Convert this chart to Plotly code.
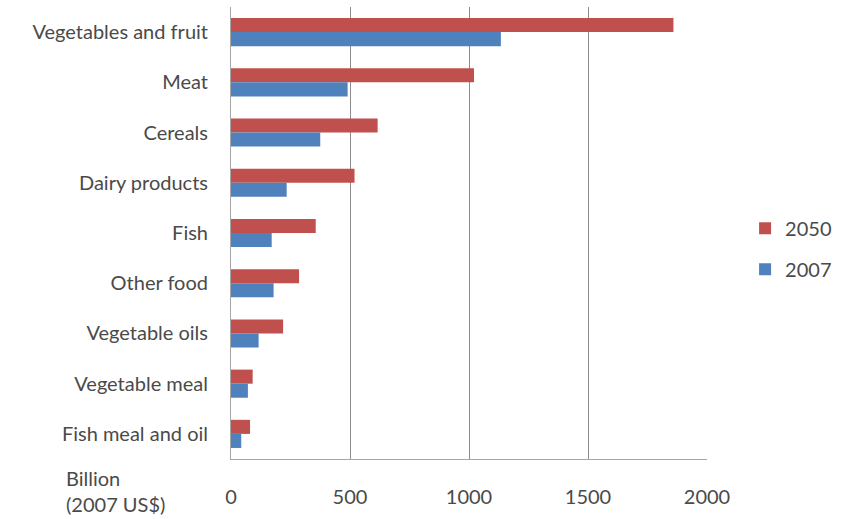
import plotly.graph_objects as go

categories = [
    "Vegetables and fruit",
    "Meat",
    "Cereals",
    "Dairy products",
    "Fish",
    "Other food",
    "Vegetable oils",
    "Vegetable meal",
    "Fish meal and oil",
]
values_2050 = [1859, 1021, 616, 519, 356, 286, 219, 91, 80]
values_2007 = [1134, 490, 375, 234, 171, 179, 116, 71, 43]
x_ticks = [0, 500, 1000, 1500, 2000]

FONT = "Lato, 'Open Sans', sans-serif"
TEXT = "#4a4a4a"
SIZE = 20

fig = go.Figure()
fig.add_trace(go.Bar(
    y=categories, x=values_2050, name="2050", orientation="h",
    marker=dict(color="#C0504D", line=dict(width=0)), legendgroup="a",
))
fig.add_trace(go.Bar(
    y=categories, x=values_2007, name="2007", orientation="h",
    marker=dict(color="#4F81BD", line=dict(width=0)), legendgroup="b",
))

fig.update_layout(
    width=850, height=519,
    margin=dict(l=231, r=143, t=7, b=60),
    paper_bgcolor="white", plot_bgcolor="white",
    barmode="group", bargap=0.44, bargroupgap=0,
    font=dict(family=FONT, size=SIZE, color=TEXT),
    showlegend=True,
    legend=dict(
        x=1.08, y=0.465, xanchor="left", yanchor="middle",
        traceorder="grouped", tracegroupgap=12,
        font=dict(family=FONT, size=SIZE, color=TEXT),
        bgcolor="rgba(0,0,0,0)",
    ),
    xaxis=dict(
        range=[0, 2000], tickvals=x_ticks, ticktext=[str(v) for v in x_ticks],
        showgrid=True, gridcolor="#8c8c8c", gridwidth=1,
        showline=True, linecolor="#a6a6a6", linewidth=1,
        ticks="outside", ticklen=20, tickcolor="rgba(0,0,0,0)",
        zeroline=False, fixedrange=True,
        tickfont=dict(family=FONT, size=SIZE, color=TEXT),
    ),
    yaxis=dict(
        categoryorder="array", categoryarray=categories, autorange="reversed",
        showline=True, linecolor="#a6a6a6", linewidth=1,
        ticks="outside", ticklen=18, tickcolor="rgba(0,0,0,0)",
        showgrid=False, fixedrange=True,
        tickfont=dict(family=FONT, size=SIZE, color=TEXT),
    ),
)

fig.add_annotation(
    text="Billion<br>(2007 US$)", xref="paper", yref="paper",
    x=-0.35, y=-0.012, xanchor="left", yanchor="top", showarrow=False,
    align="left", font=dict(family=FONT, size=SIZE, color=TEXT),
)

fig.write_html("out.html")
